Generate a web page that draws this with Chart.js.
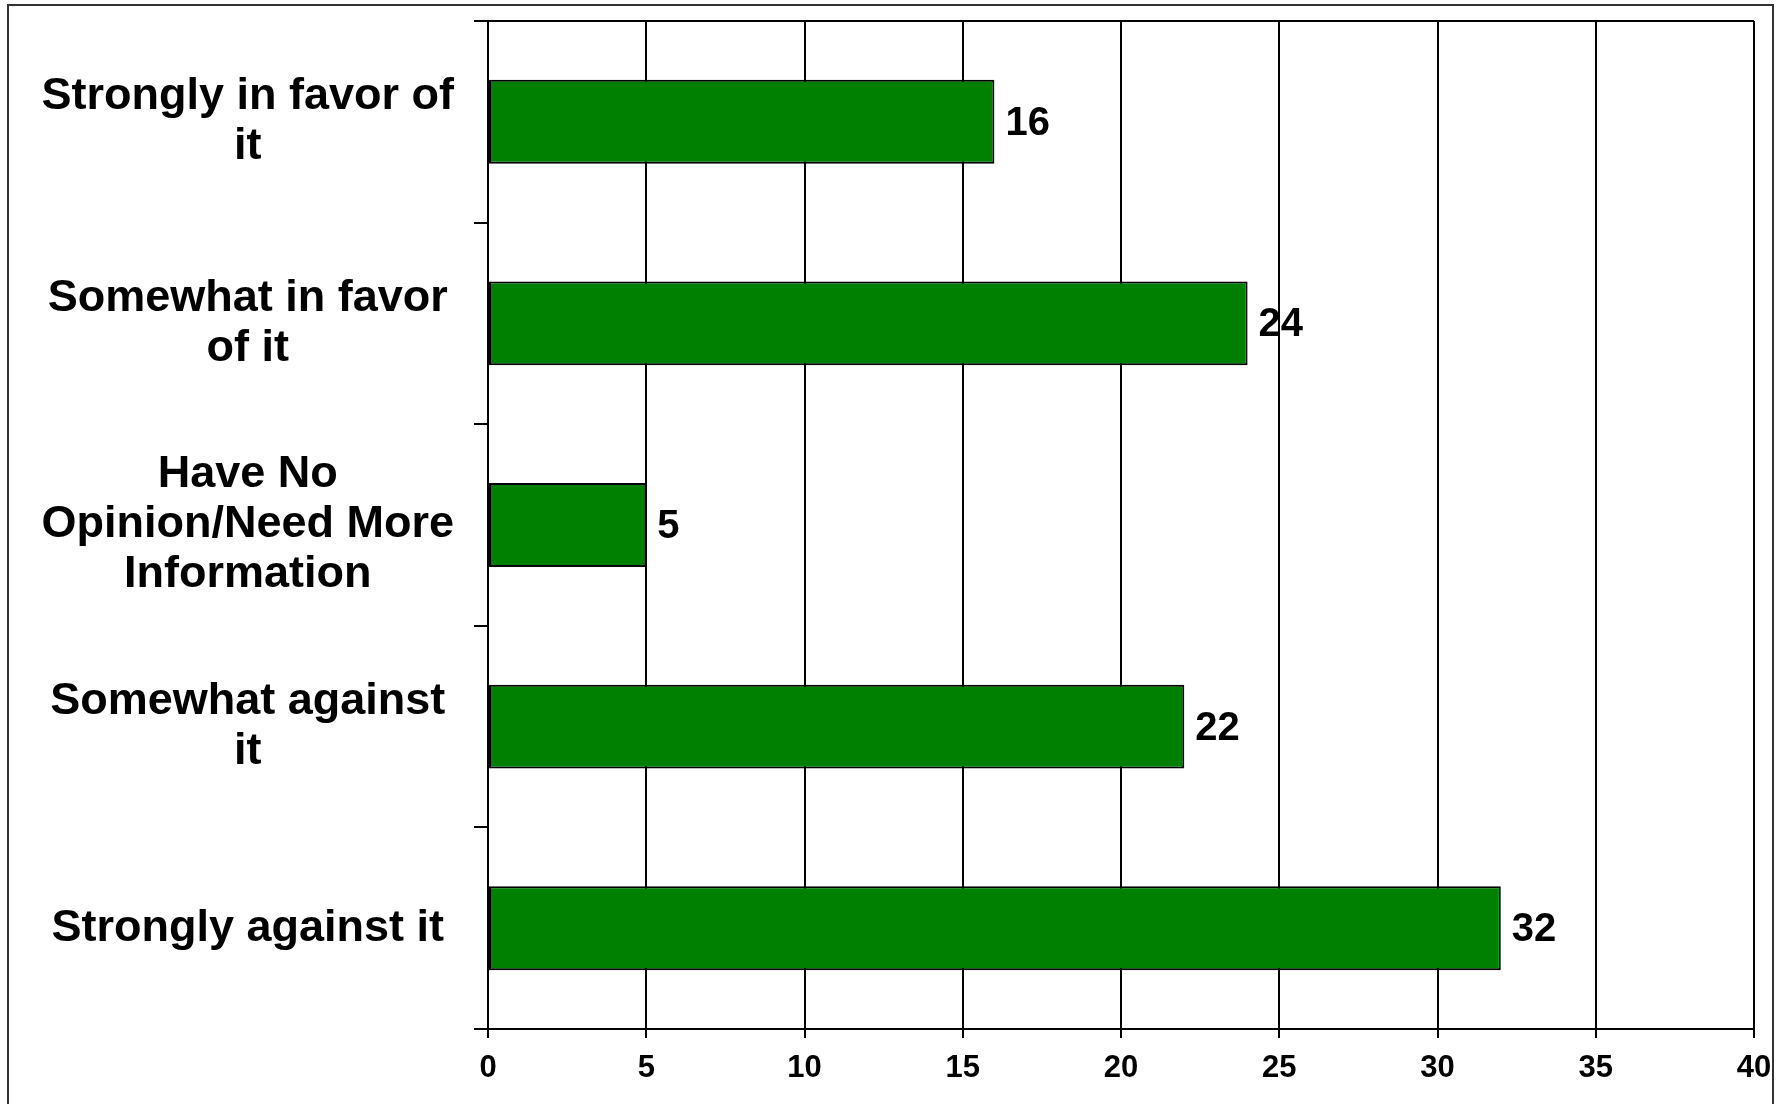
<!DOCTYPE html>
<html>
<head>
<meta charset="utf-8">
<script src="https://cdn.jsdelivr.net/npm/chart.js@4/dist/chart.umd.min.js"></script>
<style>
  html, body { margin: 0; padding: 0; background: #fff; overflow: hidden; }
  #frame {
    position: absolute; left: 7px; top: 4px; width: 1767px; height: 1200px;
    border: 2px solid #333; box-sizing: border-box;
  }
  #grafico { position: absolute; left: 0; top: 0; }
</style>
</head>
<body>
<div id="frame"></div>
<canvas id="grafico" width="1779" height="1104"></canvas>
<script>
const categorias = [
    ["Strongly in favor of", "it"],
    ["Somewhat in favor", "of it"],
    ["Have No", "Opinion/Need More", "Information"],
    ["Somewhat against", "it"],
    "Strongly against it"
];
const valores = [16, 24, 5, 22, 32];
const ticksX = [0, 5, 10, 15, 20, 25, 30, 35, 40];

const fonte = "'Liberation Sans', Arial, sans-serif";

// rotulos de valor ao lado das barras
const rotulos = {
    id: "rotulos",
    afterDatasetsDraw(chart) {
        const ctx = chart.ctx;
        const meta = chart.getDatasetMeta(0);
        ctx.save();
        ctx.font = "bold 40px " + fonte;
        ctx.fillStyle = "#000";
        ctx.textAlign = "left";
        ctx.textBaseline = "middle";
        meta.data.forEach((bar, i) => {
            ctx.fillText(String(valores[i]), bar.x + 11, bar.y + 2);
        });
        ctx.restore();
    }
};

new Chart(document.getElementById("grafico").getContext("2d"), {
    type: "bar",
    data: {
        labels: categorias,
        datasets: [{
            data: valores,
            backgroundColor: "#008000",
            borderColor: "#000",
            borderWidth: 2,
            borderSkipped: false,
            barPercentage: 0.52,
            categoryPercentage: 0.8
        }]
    },
    options: {
        indexAxis: "y",
        responsive: false,
        animation: false,
        layout: { padding: { left: 0, top: 21, right: 25, bottom: 0 } },
        plugins: {
            legend: { display: false },
            tooltip: { enabled: false }
        },
        scales: {
            x: {
                min: 0,
                max: 40,
                afterBuildTicks: s => { s.ticks = ticksX.map(v => ({ value: v })); },
                afterFit: s => {
                    s.height = 75;
                    s.paddingLeft = 0;
                    s.paddingRight = 0;
                },
                grid: { color: "#000", lineWidth: 2, tickLength: 9, tickColor: "#000" },
                border: { color: "#000", width: 2 },
                ticks: {
                    color: "#000",
                    padding: 12,
                    font: { family: fonte, size: 31, weight: "bold" }
                }
            },
            y: {
                afterFit: s => {
                    s.width = 488;
                    s.paddingTop = 0;
                    s.paddingBottom = 0;
                },
                grid: {
                    offset: true,
                    color: c => c.index === 0 ? "#000" : "rgba(0,0,0,0)",
                    lineWidth: 2,
                    tickLength: 14,
                    tickColor: "#000",
                    tickWidth: 2
                },
                border: { color: "#000", width: 2 },
                ticks: {
                    color: "#000",
                    padding: 20,
                    crossAlign: "center",
                    font: { family: fonte, size: 45, weight: "bold", lineHeight: 1.11 }
                }
            }
        }
    },
    plugins: [rotulos]
});
</script>
</body>
</html>
